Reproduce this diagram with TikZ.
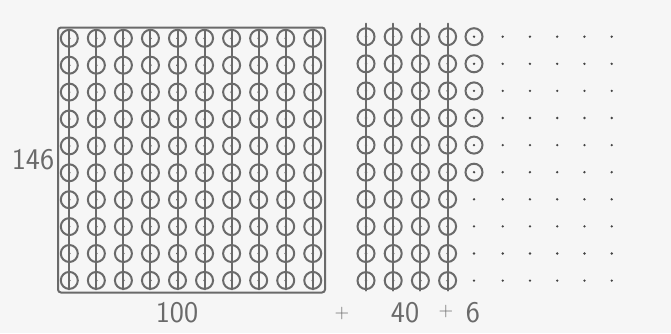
\documentclass[tikz,border=0pt]{standalone}
\definecolor{ink}{HTML}{6A6A6A}
\definecolor{pipc}{HTML}{444444}
\definecolor{paper}{HTML}{F6F6F6}
\begin{document}
\begin{tikzpicture}[x=1pt,y=-1pt,
 ring/.style={circle,draw=ink,line width=2pt,minimum size=17pt,inner sep=0pt},
 pip/.style={circle,fill=pipc,minimum size=2.6pt,inner sep=0pt},
 stroke/.style={draw=ink,line width=2pt,line cap=round},
 lbl/.style={text=ink,font=\sffamily\fontsize{30}{30}\selectfont,inner sep=0pt},
 plbl/.style={text=ink,font=\sffamily\fontsize{20}{20}\selectfont,inner sep=0pt}]
\fill[paper] (0,0) rectangle (671,333);
\useasboundingbox (0,0) rectangle (671,333);
% big square
\node[draw=ink,line width=2pt,rounded corners=3pt,minimum width=267pt,minimum height=265pt,inner sep=0pt] (box) at (191.5,160) {};
% left 10x10 grid
\foreach \i in {0,...,9}{
  \foreach \j in {0,...,9}{
    \node[ring] (L-\i-\j) at ({69.3+27.05*\i},{38.3+26.9*\j}) {};
    \node[pip] (LP-\i-\j) at (L-\i-\j.center) {};
  }
  \draw[stroke] ([yshift=8pt]L-\i-0.center) -- ([yshift=-9pt]L-\i-9.center);
}
% right: four tens
\foreach \i in {0,...,3}{
  \foreach \j in {0,...,9}{
    \node[ring] (R-\i-\j) at ({366+27.2*\i},{36.7+27.1*\j}) {};
    \node[pip] (RP-\i-\j) at (R-\i-\j.center) {};
  }
  \draw[stroke] ([yshift=13pt]R-\i-0.center) -- ([yshift=-10pt]R-\i-9.center);
}
% six ones
\foreach \j in {0,...,5}{
  \node[ring] (S-\j) at (474,{36.7+27.1*\j}) {};
  \node[pip] (SP-\j) at (S-\j.center) {};
}
\foreach \j in {6,...,9}{
  \node[pip] (SD-\j) at (474,{36.7+27.1*\j}) {};
}
% remaining dots
\foreach \i in {0,...,4}{
  \foreach \j in {0,...,9}{
    \node[pip] (D-\i-\j) at ({502.7+27.25*\i},{36.7+27.1*\j}) {};
  }
}
% labels
\node[lbl] (t146) at (33,160) {146};
\node[lbl] (t100) at (177,313) {100};
\node[plbl] (p1) at (342,314) {+};
\node[lbl] (t40) at (405,313) {40};
\node[plbl] (p2) at (446,311) {+};
\node[lbl] (t6) at (473,313) {6};
\end{tikzpicture}
\end{document}
